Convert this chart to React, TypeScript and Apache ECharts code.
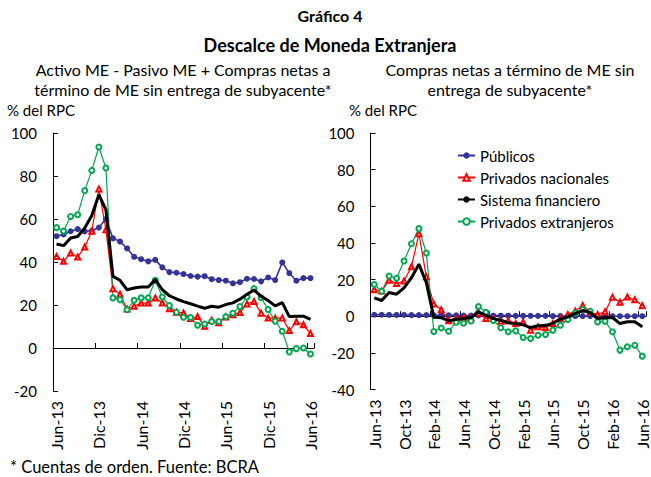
import React, { useEffect, useRef } from "react";
import * as echarts from "echarts";

const categories = [
  "Jun-13", "Jul-13", "Ago-13", "Sep-13", "Oct-13", "Nov-13", "Dic-13",
  "Ene-14", "Feb-14", "Mar-14", "Abr-14", "May-14", "Jun-14", "Jul-14", "Ago-14", "Sep-14", "Oct-14", "Nov-14", "Dic-14",
  "Ene-15", "Feb-15", "Mar-15", "Abr-15", "May-15", "Jun-15", "Jul-15", "Ago-15", "Sep-15", "Oct-15", "Nov-15", "Dic-15",
  "Ene-16", "Feb-16", "Mar-16", "Abr-16", "May-16", "Jun-16",
];

const seriesNames = ["Públicos", "Privados nacionales", "Sistema financiero", "Privados extranjeros"];

// Left panel: Activo ME - Pasivo ME + Compras netas a término
const publicosLeft = [52, 52.8, 54.3, 55.3, 54.2, 54.5, 56, 60, 51, 49.5, 46.3, 42.4, 41.3, 40.3, 41, 37.5, 35.3, 35, 34.4, 33.5, 33.2, 33.4, 32, 31.6, 31.3, 30.1, 30.6, 32.2, 32.1, 31, 32.8, 31.6, 39.8, 34.8, 31.3, 32.5, 32.5];
const nacionalesLeft = [42.6, 40.3, 44.2, 42.3, 47, 54.3, 74, 55, 27.6, 25, 18.1, 19.4, 20.9, 20.9, 23.3, 20.9, 18.3, 16.6, 16.3, 13.7, 14.6, 10.1, 12.9, 11.8, 14.4, 15.5, 16.5, 20.5, 21.6, 16.2, 13.9, 13.9, 14, 8.1, 12.2, 10.8, 6.7];
const sistemaLeft = [48.4, 47.6, 51.2, 51.9, 55.8, 61.6, 71.3, 64.3, 33.3, 31.5, 27.1, 27.9, 28.4, 28.4, 31.8, 27.1, 24.3, 22.8, 21.6, 20.6, 19.5, 18.5, 19.4, 19, 20.2, 21, 22.7, 25, 27, 24, 22.1, 19.6, 21.1, 14.6, 14.8, 14.8, 13.3];
const extranjerosLeft = [56, 54.4, 61.2, 62, 73.2, 82.6, 93.5, 83.7, 23.3, 22.5, 17.8, 22.2, 23.3, 23.4, 31.5, 23.7, 19.8, 16.6, 14.3, 14.2, 10.6, 11.2, 12.3, 12.3, 14.5, 16.2, 19.3, 23.7, 27.6, 23.4, 17.9, 12.5, 7.8, -1.8, -0.3, 0, -2.8];

// Right panel: Compras netas a término de ME sin entrega de subyacente
const publicosRight = [0.8, 0.8, 0.7, 0.7, 0.7, 0.6, 0.6, 0.6, 0.5, 0.5, 0.5, 0.5, 0.4, 0.4, 0.4, 0.4, 0.3, 0.3, 0.3, 0.2, 0.2, 0.2, 0.2, 0.2, 0.1, 0.1, 0.1, 0.1, 0.1, 0.1, 0.1, 0.1, 0, 0, 0, 0, 0];
const nacionalesRight = [14.5, 13.7, 19.6, 17.8, 19.2, 27, 45, 21.5, 6.7, 3.5, -2.5, -1.3, -0.7, -0.9, 1.8, -1.3, -1.3, -2.7, -2.5, -4, -3.2, -7.6, -5.8, -6.2, -4, -1.3, 0.9, 2.9, 5.9, 2.3, 0.9, 2.5, 10.4, 7.6, 10.5, 9, 5.7];
const sistemaRight = [10, 8.6, 12.9, 12, 15.5, 21, 28.4, 18.3, -0.5, -0.8, -2.5, -1.7, -1.3, -0.7, 2.4, 0.4, -1.3, -2.2, -3.6, -4, -4.7, -6.2, -5.2, -5.1, -3.8, -1.6, -0.4, 1.6, 3.1, 2, -1.2, -0.8, -0.7, -4, -3, -3, -5.8];
const extranjerosRight = [17.3, 13.6, 21.9, 20.7, 30.1, 39.6, 47.8, 34.5, -8.3, -6.4, -8.2, -3.3, -3.8, -2.6, 5.3, 2.2, -2.3, -6.3, -8.5, -8, -11.6, -12.2, -10.4, -10, -7.6, -4.9, -1.8, 1.8, 3.6, 2.7, -3.1, -2.7, -8.5, -18.5, -16.7, -15.8, -21.8];

const leftYTicks = { min: -20, max: 100, interval: 20 };
const rightYTicks = { min: -40, max: 100, interval: 20 };

const FONT = "Lato, 'Open Sans', sans-serif";

export default function App() {
  const ref = useRef<HTMLDivElement>(null);

  useEffect(() => {
    if (!ref.current) return;
    const chart = echarts.init(ref.current, null, { renderer: "svg" });

    const styles = [
      { color: "#333399", width: 1.6, symbol: "circle", size: 6 },
      { color: "#ff0000", width: 1.2, symbol: "emptyTriangle", size: 5 },
      { color: "#000000", width: 3, symbol: "none", size: 0 },
      { color: "#00a650", width: 1.2, symbol: "emptyCircle", size: 5 },
    ];

    const mk = (idx: number, data: number[], gi: number) => ({
      name: seriesNames[idx],
      type: "line",
      xAxisIndex: gi * 2,
      yAxisIndex: gi,
      data,
      symbol: styles[idx].symbol,
      symbolSize: styles[idx].size,
      showSymbol: styles[idx].symbol !== "none",
      showAllSymbol: true,
      lineStyle: { color: styles[idx].color, width: styles[idx].width },
      itemStyle: { color: styles[idx].color, borderWidth: 1 },
      z: idx === 2 ? 3 : 2,
    });

    const labelAxis = (gi: number, interval: number) => ({
      type: "category",
      gridIndex: gi,
      data: categories,
      position: "bottom",
      boundaryGap: true,
      axisLine: { show: false, onZero: false },
      axisTick: { show: false },
      axisLabel: {
        interval,
        rotate: 90,
        margin: 10,
        color: "#000",
        fontSize: 16,
        fontFamily: FONT,
      },
    });

    const zeroAxis = (gi: number, interval: number) => ({
      type: "category",
      gridIndex: gi,
      data: categories,
      position: "bottom",
      boundaryGap: true,
      axisLine: { show: true, onZero: true, lineStyle: { color: "#000", width: 1 } },
      axisTick: { show: true, inside: true, length: 5, interval, lineStyle: { color: "#000" } },
      axisLabel: { show: false },
    });

    const yAxis = (gi: number, t: { min: number; max: number; interval: number }) => ({
      type: "value",
      gridIndex: gi,
      min: t.min,
      max: t.max,
      interval: t.interval,
      axisLine: { show: true, lineStyle: { color: "#000", width: 1 } },
      axisTick: { show: true, inside: true, length: 5, lineStyle: { color: "#000" } },
      splitLine: { show: false },
      axisLabel: { color: "#000", fontSize: 15, fontFamily: FONT, margin: 16 },
    });

    const txt = (text: string, x: number, y: number, size: number, bold: boolean, align: string) => ({
      type: "text",
      x,
      y,
      style: {
        text,
        fill: "#000",
        font: `${bold ? "bold " : ""}${size}px ${FONT}`,
        textAlign: align,
        textVerticalAlign: "middle",
        align,
        verticalAlign: "middle",
      },
    });

    chart.setOption({
      animation: false,
      backgroundColor: "#ffffff",
      textStyle: { fontFamily: FONT },
      grid: [
        { left: 53, top: 133, width: 261, height: 258 },
        { left: 370.5, top: 133, width: 275.5, height: 256.5 },
      ],
      xAxis: [labelAxis(0, 5), zeroAxis(0, 5), labelAxis(1, 3), zeroAxis(1, 3)],
      yAxis: [yAxis(0, leftYTicks), yAxis(1, rightYTicks)],
      legend: {
        data: seriesNames,
        orient: "vertical",
        left: 452,
        top: 143,
        itemWidth: 17,
        itemHeight: 8,
        itemGap: 7,
        textStyle: { fontSize: 15, fontFamily: FONT, color: "#000" },
      },
      graphic: [
        txt("Gráfico 4", 330, 15, 16, true, "center"),
        txt("Descalce de Moneda Extranjera", 330, 45, 18, true, "center"),
        txt("Activo ME - Pasivo ME + Compras netas a", 183, 69, 16, false, "center"),
        txt("término de ME sin entrega de subyacente*", 183, 89, 16, false, "center"),
        txt("Compras netas a término de ME sin", 510, 69, 16, false, "center"),
        txt("entrega de subyacente*", 510, 89, 16, false, "center"),
        txt("% del RPC", 7, 110, 15, false, "left"),
        txt("% del RPC", 349, 110, 15, false, "left"),
        txt("* Cuentas de orden. Fuente: BCRA", 10, 467, 16.5, false, "left"),
      ],
      series: [
        mk(0, publicosLeft, 0),
        mk(1, nacionalesLeft, 0),
        mk(2, sistemaLeft, 0),
        mk(3, extranjerosLeft, 0),
        mk(0, publicosRight, 1),
        mk(1, nacionalesRight, 1),
        mk(2, sistemaRight, 1),
        mk(3, extranjerosRight, 1),
      ],
    });

    return () => chart.dispose();
  }, []);

  return (
    <div
      ref={ref}
      style={{ position: "absolute", left: 0, top: 0, width: 651, height: 477, background: "#fff" }}
    />
  );
}
